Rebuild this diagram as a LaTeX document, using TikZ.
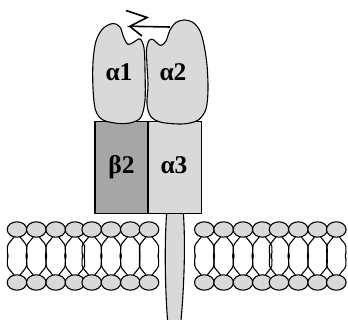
\documentclass[tikz,border=0pt]{standalone}
\usepackage{fontspec}
\setmainfont{Liberation Serif}
\definecolor{partlight}{HTML}{D9D9D9}
\definecolor{partdark}{HTML}{A6A6A6}
\begin{document}
\begin{tikzpicture}[x=1pt,y=-1pt,
  outline/.style={draw=black,line width=1.1pt,line join=round},
  lightpart/.style={outline,fill=partlight},
  darkpart/.style={outline,fill=partdark},
  lipidhead/.style={outline,fill=partlight},
  lipidtail/.style={draw=black,line width=1.1pt,line join=round,rounded corners=1.5pt},
  chain/.style={draw=black,line width=1.6pt,line join=miter},
  lbl/.style={font=\fontsize{25.5}{25.5}\selectfont\bfseries,inner sep=0pt,anchor=base}
]
\useasboundingbox (0,0) rectangle (348,320);

% lipid bilayer: tails first, heads on top
\foreach \cx in {17,36.3,55.7,75,91.7,111,130.3,149,
                 204.3,223.6,243,262.3,279,298.3,317.6,336.3}{
  \draw[lipidtail] (\cx-3,237) -- (\cx-9.5,245) -- (\cx-9.7,254) -- (\cx-8.6,256)
        -- (\cx-9.7,258) -- (\cx-9.5,267) -- (\cx-3,275);
  \draw[lipidtail] (\cx+3,237) -- (\cx+9.5,245) -- (\cx+9.7,254) -- (\cx+8.6,256)
        -- (\cx+9.7,258) -- (\cx+9.5,267) -- (\cx+3,275);
}
\foreach \cx in {17,36.3,55.7,75,91.7,111,130.3,149,
                 204.3,223.6,243,262.3,279,298.3,317.6,336.3}{
  \draw[lipidhead] (\cx,229.5) ellipse [x radius=9.8, y radius=7.7];
  \draw[lipidhead] (\cx,282.5) ellipse [x radius=9.8, y radius=7.7];
}

% transmembrane stalk
\draw[lightpart] (166.7,212) .. controls (164.3,245) and (165,290) .. (168,326)
  -- (180.5,326) .. controls (184,290) and (185.7,245) .. (183.3,212) -- cycle;

% beta2 and alpha3 blocks
\draw[darkpart] (95,121.5) rectangle (148,213.5);
\draw[lightpart] (148,121.5) rectangle (201.5,213.5);

% alpha1 and alpha2 domains
\draw[lightpart] plot[smooth cycle, tension=0.55] coordinates {
  (119,123.5) (103,120) (95.5,110) (93,88) (93,62) (96,41) (103,28.5) (113,23.5)
  (120,27) (124,38) (128,44.5) (134,42) (140,39) (144,48) (145,70) (145,100)
  (141,117) (132,122.5)};
\draw[lightpart] plot[smooth cycle, tension=0.55] coordinates {
  (178,124) (160,122) (150.5,116) (147,104) (148,85) (147,65) (146.5,50) (149,40.5)
  (153,39.5) (157,43) (161,45.5) (166,41) (170,30) (176,22.5) (184,20) (193,22.5)
  (200,31) (204,45) (207,65) (208,90) (206,109) (199,119.5) (190,123)};

% connecting chain
\draw[chain] (126,10.5) -- (147,17.5) -- (130,26.3) -- (170,27);
\draw[chain] (130.5,27) -- (142,36);

% labels
\node[lbl] (a1) at (119,80.5) {α1};
\node[lbl] (a2) at (173,80.5) {α2};
\node[lbl] (b2) at (121.5,174) {β2};
\node[lbl] (a3) at (174,174) {α3};
\end{tikzpicture}
\end{document}
